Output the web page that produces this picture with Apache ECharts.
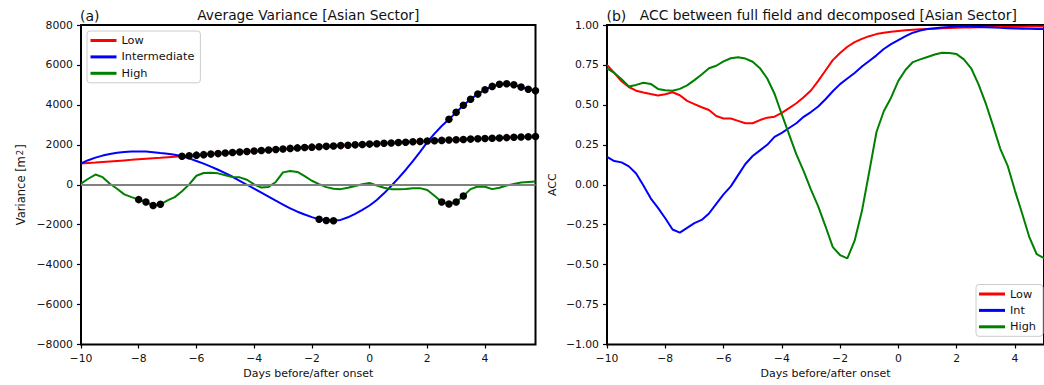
<!DOCTYPE html>
<html>
<head>
<meta charset="utf-8">
<script src="https://cdn.jsdelivr.net/npm/echarts@6/dist/echarts.min.js"></script>
<style>
html,body{margin:0;padding:0;background:#fff;}
#chart{width:1044px;height:385px;}
</style>
</head>
<body>
<div id="chart"></div>
<script>
// ---------------- DATA ----------------
const leftDays = [
  -10,-9.75,-9.5,-9.25, -9,-8.75,-8.5,-8.25, -8,-7.75,-7.5,-7.25, -7,-6.75,-6.5,-6.25,
  -6,-5.75,-5.5,-5.25, -5,-4.75,-4.5,-4.25, -4,-3.75,-3.5,-3.25, -3,-2.75,-2.5,-2.25,
  -2,-1.75,-1.5,-1.25, -1,-0.75,-0.5,-0.25, 0,0.25,0.5,0.75, 1,1.25,1.5,1.75,
  2,2.25,2.5,2.75, 3,3.25,3.5,3.75, 4,4.25,4.5,4.75, 5,5.25,5.5,5.75
];
const rightDays = [
  -10,-9.75,-9.5,-9.25, -9,-8.75,-8.5,-8.25, -8,-7.75,-7.5,-7.25, -7,-6.75,-6.5,-6.25,
  -6,-5.75,-5.5,-5.25, -5,-4.75,-4.5,-4.25, -4,-3.75,-3.5,-3.25, -3,-2.75,-2.5,-2.25,
  -2,-1.75,-1.5,-1.25, -1,-0.75,-0.5,-0.25, 0,0.25,0.5,0.75, 1,1.25,1.5,1.75,
  2,2.25,2.5,2.75, 3,3.25,3.5,3.75, 4,4.25,4.5,4.75, 5
];

// Panel (a): average variance [m^2]
const varLow = [
  1063,1089,1115,1142, 1168,1194,1220,1246, 1273,1299,1325,1351, 1378,1404,1430,1456,
  1482,1508,1534,1560, 1586,1612,1638,1664, 1690,1716,1742,1768, 1794,1820,1846,1865,
  1884,1903,1922,1941, 1960,1979,1998,2016, 2035,2055,2074,2094, 2113,2132,2152,2171,
  2190,2206,2222,2238, 2254,2270,2285,2300, 2315,2330,2345,2360, 2375,2390,2402,2414
];
const varInt = [
  1070,1230,1360,1460, 1540,1600,1640,1660, 1668,1660,1630,1590, 1555,1500,1430,1320,
  1190,1055,910,750, 580,400,200,0, -200,-400,-600,-800, -990,-1180,-1350,-1490,
  -1620,-1725,-1790,-1805, -1760,-1630,-1460,-1260, -1040,-760,-430,-60, 330,740,1180,1650,
  2130,2560,2940,3275, 3625,3985,4285,4540, 4760,4925,5035,5060, 5010,4890,4785,4705
];
const varHigh = [
  60,300,510,380, 50,-200,-480,-620, -745,-865,-1040,-980, -780,-620,-330,20,
  450,590,600,570, 480,390,370,250, 20,-140,-110,140, 620,690,640,430,
  200,30,-120,-200, -220,-150,-60,20, 90,-40,-150,-220, -230,-215,-180,-170,
  -260,-550,-865,-965, -865,-565,-220,-90, -100,-220,-150,-40, 40,110,140,160
];
// significant periods (day ranges) marked with black dots
const sigLow = [[-6.5, 5.75]];
const sigInt = [[-1.75, -1.25], [2.75, 5.75]];
const sigHigh = [[-8, -7.25], [2.5, 3.25]];

// Panel (b): ACC
const accLow = [
  0.75,0.70,0.648,0.612, 0.589,0.578,0.568,0.559, 0.566,0.579,0.56,0.525, 0.505,0.485,0.468,0.43,
  0.415,0.415,0.40,0.385, 0.385,0.405,0.42,0.426, 0.45,0.48,0.51,0.548, 0.59,0.65,0.715,0.78,
  0.825,0.864,0.893,0.913, 0.93,0.943,0.952,0.958, 0.963,0.967,0.97,0.973, 0.975,0.977,0.979,0.981,
  0.983,0.984,0.985,0.986, 0.987,0.987,0.988,0.988, 0.989,0.989,0.99,0.99, 0.99
];
const accInt = [
  0.175,0.148,0.14,0.115, 0.07,-0.005,-0.085,-0.145, -0.21,-0.28,-0.30,-0.27, -0.24,-0.22,-0.18,-0.12,
  -0.06,-0.01,0.06,0.13, 0.18,0.215,0.25,0.30, 0.325,0.355,0.385,0.425, 0.455,0.49,0.535,0.585,
  0.63,0.665,0.70,0.74, 0.775,0.81,0.85,0.88, 0.905,0.93,0.952,0.965, 0.975,0.98,0.985,0.988,
  0.99,0.99,0.99,0.988, 0.986,0.984,0.982,0.98, 0.978,0.977,0.976,0.975, 0.975
];
const accHigh = [
  0.729,0.70,0.66,0.615, 0.625,0.638,0.631,0.60, 0.592,0.589,0.60,0.622, 0.655,0.69,0.729,0.745,
  0.772,0.792,0.798,0.79, 0.77,0.73,0.665,0.57, 0.44,0.315,0.19,0.085, -0.03,-0.135,-0.26,-0.39,
  -0.44,-0.461,-0.35,-0.165, 0.08,0.33,0.46,0.545, 0.65,0.72,0.768,0.785, 0.80,0.815,0.826,0.825,
  0.818,0.785,0.729,0.63, 0.51,0.37,0.225,0.12, -0.035,-0.18,-0.33,-0.435, -0.46
];

const xTicks = [-10, -8, -6, -4, -2, 0, 2, 4];
const yTicksVar = [-8000, -6000, -4000, -2000, 0, 2000, 4000, 6000, 8000];
const yTicksAcc = [-1, -0.75, -0.5, -0.25, 0, 0.25, 0.5, 0.75, 1];

// ---------------- HELPERS ----------------
const FONT = '"DejaVu Sans", "Liberation Sans", sans-serif';
const MINUS = '\u2212';
function pairs(xs, ys) { return ys.map((v, i) => [xs[i], v]); }
function sigPoints(xs, ys, ranges) {
  const out = [];
  xs.forEach((d, i) => {
    if (i < ys.length && ranges.some(r => d >= r[0] - 1e-9 && d <= r[1] + 1e-9)) out.push([d, ys[i]]);
  });
  return out;
}
function fmtInt(v) { return v < 0 ? MINUS + Math.abs(v) : String(v); }
function fmtAcc(v) { return v < 0 ? MINUS + Math.abs(v).toFixed(2) : v.toFixed(2); }

function xAxisCfg(gridIndex, max) {
  return {
    type: 'value', gridIndex, min: -10, max, interval: 2,
    axisLine: { show: false, onZero: false },
    axisTick: { show: true, length: 4, lineStyle: { color: '#000', width: 1.2 }, customValues: xTicks },
    axisLabel: {
      customValues: xTicks,
      formatter: v => fmtInt(v),
      fontSize: 10.8, color: '#111', margin: 8, fontFamily: FONT, hideOverlap: false
    },
    splitLine: { show: false },
    name: 'Days before/after onset', nameLocation: 'middle', nameGap: 23,
    nameTextStyle: { fontSize: 11, color: '#111', fontFamily: FONT }
  };
}
function yAxisCfg(gridIndex, min, max, interval, ticks, fmt, name, gap, nameSize, rich) {
  return {
    type: 'value', gridIndex, min, max, interval,
    axisLine: { show: false, onZero: false },
    axisTick: { show: true, length: 4, lineStyle: { color: '#000', width: 1.2 }, customValues: ticks },
    axisLabel: { customValues: ticks, formatter: fmt, fontSize: 10.8, color: '#111', margin: 8, fontFamily: FONT },
    splitLine: { show: false },
    name, nameLocation: 'middle', nameGap: gap,
    nameTextStyle: Object.assign({ fontSize: nameSize, color: '#111', fontFamily: FONT }, rich ? { rich } : {})
  };
}
function lineSeries(name, xi, xs, ys, color, extra) {
  return Object.assign({
    name, type: 'line', xAxisIndex: xi, yAxisIndex: xi,
    data: pairs(xs, ys), showSymbol: false, symbol: 'none',
    lineStyle: { color, width: 2 }, itemStyle: { color },
    animation: false, z: 2
  }, extra || {});
}
function dotSeries(xs, ys, ranges) {
  return {
    type: 'scatter', xAxisIndex: 0, yAxisIndex: 0,
    data: sigPoints(xs, ys, ranges), symbol: 'circle', symbolSize: 7.5,
    itemStyle: { color: '#000', opacity: 1 }, animation: false, z: 5, silent: true
  };
}
const legendBase = {
  orient: 'vertical', icon: 'rect', itemWidth: 26, itemHeight: 3, itemGap: 5.4,
  backgroundColor: '#fff', borderColor: '#ccc', borderWidth: 1, borderRadius: 3,
  textStyle: { fontSize: 11.3, color: '#111', fontFamily: FONT }, selectedMode: false
};

// ---------------- CHART ----------------
const chart = echarts.init(document.getElementById('chart'), null, { renderer: 'svg', width: 1044, height: 385 });
chart.setOption({
  backgroundColor: '#fff',
  animation: false,
  textStyle: { fontFamily: FONT },
  grid: [
    { left: 81, top: 25, width: 454.5, height: 319.5, show: true, borderColor: '#000', borderWidth: 2, backgroundColor: '#fff' },
    { left: 607, top: 25, width: 442, height: 319.5, show: true, borderColor: '#000', borderWidth: 2, backgroundColor: '#fff' }
  ],
  xAxis: [xAxisCfg(0, 5.75), xAxisCfg(1, 5)],
  yAxis: [
    yAxisCfg(0, -8000, 8000, 2000, yTicksVar, fmtInt, 'Variance [m{sup|2}]', 54, 11.5,
      { sup: { fontSize: 8.5, verticalAlign: 'top', padding: [0, 1, 3, 1], color: '#111', fontFamily: FONT } }),
    yAxisCfg(1, -1, 1, 0.25, yTicksAcc, fmtAcc, 'ACC', 49, 11)
  ],
  legend: [
    Object.assign({}, legendBase, { data: ['Low', 'Intermediate', 'High'], left: 87, top: 31, padding: [4, 6, 4, 3.5] }),
    Object.assign({}, legendBase, { data: ['Low', 'Int', 'High'], left: 976, top: 284.5, padding: [4, 7, 4, 3] })
  ],
  graphic: [
    { type: 'text', x: 80, y: 15.5, style: { text: '(a)', font: '14px ' + FONT, fill: '#111', align: 'left', textAlign: 'left', verticalAlign: 'middle', textVerticalAlign: 'middle' } },
    { type: 'text', x: 308.3, y: 14.5, style: { text: 'Average Variance [Asian Sector]', font: '13.8px ' + FONT, fill: '#111', align: 'center', textAlign: 'center', verticalAlign: 'middle', textVerticalAlign: 'middle' } },
    { type: 'text', x: 606.5, y: 15.5, style: { text: '(b)', font: '14px ' + FONT, fill: '#111', align: 'left', textAlign: 'left', verticalAlign: 'middle', textVerticalAlign: 'middle' } },
    { type: 'text', x: 828.3, y: 14.5, style: { text: 'ACC between full field and decomposed [Asian Sector]', font: '13.8px ' + FONT, fill: '#111', align: 'center', textAlign: 'center', verticalAlign: 'middle', textVerticalAlign: 'middle' } }
  ],
  series: [
    lineSeries('Low', 0, leftDays, varLow, '#ff0000', {
      markLine: {
        silent: true, symbol: 'none', label: { show: false }, animation: false,
        lineStyle: { color: '#808080', width: 2, type: 'solid' },
        data: [{ yAxis: 0 }]
      }
    }),
    lineSeries('Intermediate', 0, leftDays, varInt, '#0000ff'),
    lineSeries('High', 0, leftDays, varHigh, '#008000'),
    dotSeries(leftDays, varLow, sigLow),
    dotSeries(leftDays, varInt, sigInt),
    dotSeries(leftDays, varHigh, sigHigh),
    lineSeries('Low', 1, rightDays, accLow, '#ff0000'),
    lineSeries('Int', 1, rightDays, accInt, '#0000ff'),
    lineSeries('High', 1, rightDays, accHigh, '#008000')
  ]
});
</script>
</body>
</html>
